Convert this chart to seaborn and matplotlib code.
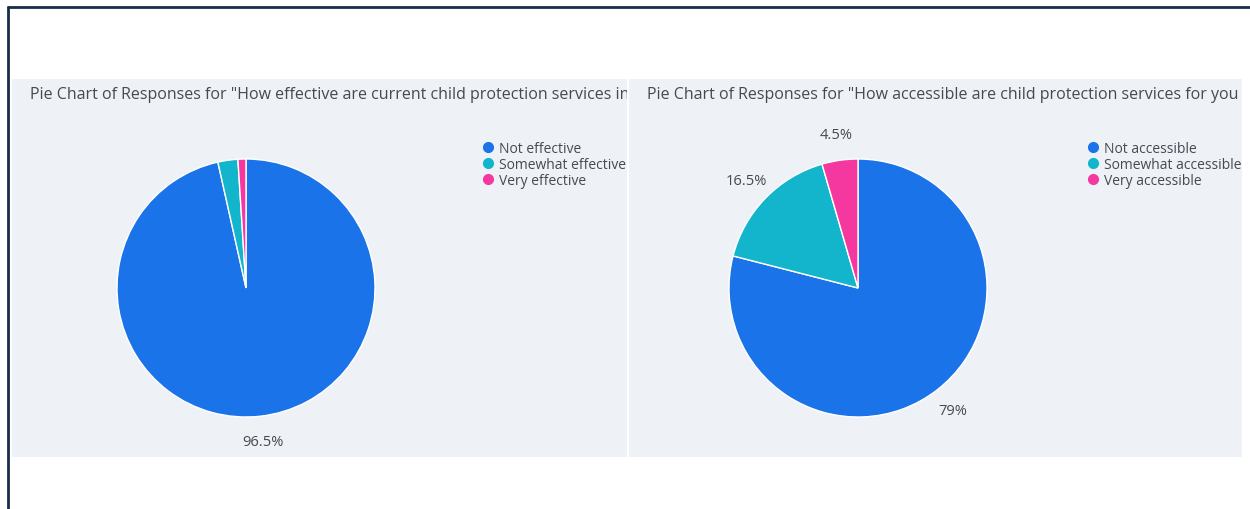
import matplotlib
matplotlib.use("Agg")
import matplotlib.pyplot as plt
from matplotlib.lines import Line2D
import numpy as np
import seaborn as sns

# Survey responses (percent of respondents)
eff_labels = ["Not effective", "Somewhat effective", "Very effective"]
eff_values = [96.5, 2.5, 1.0]
acc_labels = ["Not accessible", "Somewhat accessible", "Very accessible"]
acc_values = [79.0, 16.5, 4.5]
eff_title = 'Pie Chart of Responses for "How effective are current child protection services in your area?"'
acc_title = 'Pie Chart of Responses for "How accessible are child protection services for you and your family?"'

sns.set_theme(style="white")
plt.rcParams["font.family"] = ["Open Sans", "DejaVu Sans"]
palette = sns.color_palette(["#1a73e8", "#12b5cb", "#f538a0"])
PANEL_BG = "#eef2f7"
TEXT = "#444a52"

W, H = 1250, 510
fig = plt.figure(figsize=(W / 100, H / 100), dpi=100)
fig.patch.set_facecolor("white")

# outer frame: left and top edges
frame = dict(color="#1c2b4a", linewidth=2, transform=fig.transFigure)
fig.add_artist(Line2D([8 / W, 8 / W], [0, 1 - 8 / H], **frame))
fig.add_artist(Line2D([8 / W, 1], [1 - 8 / H, 1 - 8 / H], **frame))


def panel(x0, x1, y0, y1, labels, values, title, cx, leg_x):
    ax = fig.add_axes([x0 / W, 1 - y1 / H, (x1 - x0) / W, (y1 - y0) / H])
    pw, ph = x1 - x0, y1 - y0
    ax.set_facecolor(PANEL_BG)

    cy, r = y1 - 289, 129
    wedges, _ = ax.pie(values, colors=palette, startangle=90, counterclock=False,
                       center=(cx, cy), radius=r, frame=True,
                       wedgeprops=dict(edgecolor="white", linewidth=1))
    ax.set_xlim(0, pw)
    ax.set_ylim(0, ph)
    ax.set_aspect("auto")
    ax.set_xticks([])
    ax.set_yticks([])
    for s in ax.spines.values():
        s.set_visible(False)

    for w, v in zip(wedges, values):
        if v < 3:
            continue
        th = np.deg2rad((w.theta1 + w.theta2) / 2)
        ax.text(cx + 1.2 * r * np.cos(th), cy + 1.2 * r * np.sin(th),
                f"{v:g}%", ha="center", va="center", fontsize=10.5, color=TEXT)

    ax.text(18 / pw, 1 - 15 / ph, title, transform=ax.transAxes, ha="left", va="center",
            fontsize=11.5, color=TEXT, clip_on=True)

    handles = [Line2D([], [], marker="o", linestyle="none", markersize=7,
                      markerfacecolor=c, markeredgecolor=c) for c in palette]
    leg = ax.legend(handles, labels, loc="upper left",
                    bbox_to_anchor=((leg_x - x0) / pw, 1 - 56 / ph),
                    frameon=False, fontsize=10, handletextpad=0.3, labelspacing=0.1,
                    borderaxespad=0, handlelength=1.0, labelcolor=TEXT)
    for txt in leg.get_texts():
        txt.set_clip_box(ax.bbox)
        txt.set_clip_on(True)
    return ax


panel(12, 627, 80, 458, eff_labels, eff_values, eff_title, 234, 475)
panel(629, 1242, 80, 458, acc_labels, acc_values, acc_title, 229, 1080)

fig.savefig("out.png", dpi=100, facecolor="white")
